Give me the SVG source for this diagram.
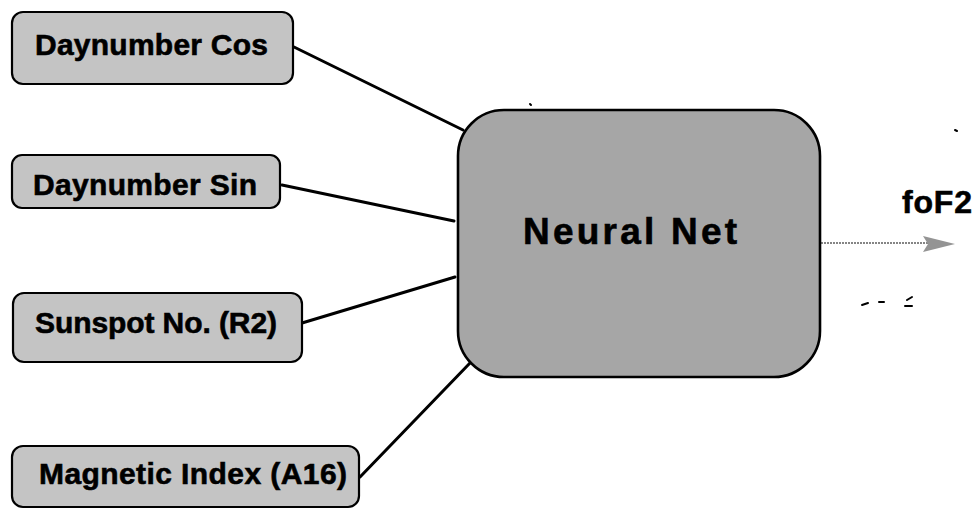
<svg xmlns="http://www.w3.org/2000/svg" width="974" height="510" viewBox="0 0 974 510">
  <style>
    .input rect { fill: #c4c4c4; stroke: #000; stroke-width: 2.2; }
    .net rect { fill: #a6a6a6; stroke: #000; stroke-width: 2.6; }
    .label { font-family: "Liberation Sans", Arial, sans-serif; font-weight: bold; fill: #000; stroke: #000; stroke-width: 0.6; }
    .in-label { font-size: 30px; }
    .wire { stroke: #000; stroke-width: 3; fill: none; stroke-linecap: round; }
    .out-wire { stroke: #858585; stroke-width: 2.2; stroke-dasharray: 2 1; fill: none; }
    .speck { stroke: #000; stroke-width: 2; fill: none; stroke-linecap: round; }
  </style>

  <rect width="974" height="510" fill="#fff"/>

  <!-- connectors -->
  <g id="connectors">
    <line class="wire" x1="294" y1="47" x2="463" y2="130"/>
    <line class="wire" x1="282" y1="185" x2="454" y2="221"/>
    <line class="wire" x1="302" y1="323" x2="455" y2="277"/>
    <line class="wire" x1="360" y1="477" x2="470" y2="363"/>
    <line class="out-wire" x1="821" y1="243" x2="930" y2="243"/>
    <path d="M923,236 L955,244 L923,252 L928,244 Z" fill="#949494"/>
  </g>

  <!-- input nodes -->
  <g id="daynumber-cos" class="input">
    <rect x="12" y="12" width="281" height="72" rx="11"/>
    <text class="label in-label" x="35" y="55" textLength="233" lengthAdjust="spacing">Daynumber  Cos</text>
  </g>
  <g id="daynumber-sin" class="input">
    <rect x="12" y="155" width="268" height="53" rx="10"/>
    <text class="label in-label" x="33" y="195" textLength="224" lengthAdjust="spacing">Daynumber  Sin</text>
  </g>
  <g id="sunspot" class="input">
    <rect x="13" y="293" width="289" height="69" rx="11"/>
    <text class="label in-label" x="35" y="333" textLength="242" lengthAdjust="spacing">Sunspot No. (R2)</text>
  </g>
  <g id="magnetic-index" class="input">
    <rect x="12" y="446" width="347" height="61" rx="11"/>
    <text class="label in-label" x="39" y="484" textLength="308" lengthAdjust="spacing">Magnetic Index (A16)</text>
  </g>

  <!-- network node -->
  <g id="neural-net" class="net">
    <rect x="458" y="110" width="362" height="267" rx="46"/>
    <text class="label" x="523" y="244" font-size="37" textLength="214" lengthAdjust="spacing">Neural Net</text>
  </g>

  <!-- output -->
  <g id="output">
    <text class="label" x="902" y="213" font-size="32" textLength="70" lengthAdjust="spacing">foF2</text>
  </g>

  <!-- small marks -->
  <g id="specks">
    <path class="speck" d="M862,305 L868,303"/>
    <path class="speck" d="M879,302 L884,302"/>
    <path class="speck" d="M907,300 L912,297"/>
    <path class="speck" d="M905,306 L912,306" stroke-width="1"/>
    <path class="speck" d="M530,104 L531,105" stroke-width="1.5"/>
    <path class="speck" d="M955,130 L957,131" stroke-width="1.5"/>
  </g>
</svg>
